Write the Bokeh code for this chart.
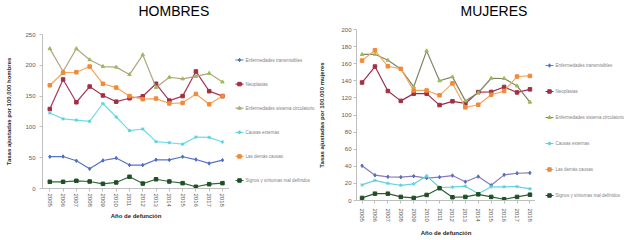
from bokeh.plotting import figure
from bokeh.models import Range1d, FixedTicker
from bokeh.core.properties import value
from bokeh.layouts import row, column
from bokeh.embed import file_html
from bokeh.resources import INLINE

years = list(range(2005, 2019))
series_labels = [
    "Enfermedades transmisibles",
    "Neoplasias",
    "Enfermedades sistema circulatorio",
    "Causas externas",
    "Las demás causas",
    "Signos y síntomas mal definidos",
]
chart_titles = ["HOMBRES", "MUJERES"]

# HOMBRES
transmisibles_h = [51.6, 51.9, 45, 32, 45.5, 49.4, 38, 38, 46.7, 46.4, 51.6, 47, 40.7, 46]
neoplasias_h = [129, 177, 140, 165.5, 151, 141, 146.5, 149.7, 170, 142.7, 150, 190, 158, 150]
circulatorio_h = [227, 190, 227, 209, 198, 197, 185, 217, 164, 180.6, 178, 182, 187, 173]
externas_h = [122.6, 113, 111, 109, 138, 116, 94, 96.6, 76, 74.3, 72, 83.5, 83, 75.5]
demas_h = [167.6, 188, 188.7, 198, 170, 163.8, 150, 145, 146, 138, 139, 153.5, 136.7, 150]
signos_h = [10.9, 10.9, 12.5, 11.4, 7.6, 9.8, 19, 8, 15, 11.4, 8.7, 2.8, 7, 8.7]

# MUJERES
transmisibles_m = [40.6, 29.6, 27.7, 27.3, 28.5, 26.2, 27.3, 29.2, 22, 28, 17.8, 30, 31.9, 32.3]
neoplasias_m = [138, 156.7, 128, 116.5, 125, 125, 111.6, 116, 113.5, 126.8, 127, 132.8, 126.4, 130]
circulatorio_m = [170.8, 171, 164, 153.7, 133, 175, 140, 144.6, 116.5, 126, 143, 142.7, 134, 115]
externas_m = [18.2, 23.5, 20, 17.8, 19.4, 28.8, 15.2, 15.6, 16.7, 8, 16, 16, 16.3, 13.7]
demas_m = [163.6, 175.7, 157, 154, 128.7, 128.7, 123, 137, 109, 112, 123.7, 128, 145, 145.7]
signos_m = [3, 8, 8, 4.2, 3, 6.5, 14.4, 3.8, 4.2, 7.2, 4.2, 1.5, 4.2, 6.8]

yticks_h = [0, 50, 100, 150, 200, 250]
yticks_m = [0, 20, 40, 60, 80, 100, 120, 140, 160, 180, 200]

line_colors_h = ["#5a72c4", "#a8385a", "#b3a57f", "#6fdde6", "#f7a458", "#2f6b35"]
line_colors_m = ["#8a7ab8", "#9a2f55", "#7f8462", "#66d3df", "#f2a860", "#2f5e34"]
marker_colors = ["#4f6fc0", "#a03040", "#9bbb59", "#5fd0e0", "#f08a3a", "#1f4f26"]
markers = ["diamond", "square", "triangle", "asterisk", "square", "square"]

FONT = "Liberation Sans"
TITLE_H = 24
H = 214


def bare_figure(width, height):
    f = figure(width=width, height=height, output_backend="svg", toolbar_location=None,
               x_range=Range1d(0, width), y_range=Range1d(height, 0),
               x_axis_location=None, y_axis_location=None,
               min_border_left=0, min_border_right=0, min_border_top=0,
               min_border_bottom=0, frame_align=False)
    f.outline_line_color = None
    f.xgrid.grid_line_color = None
    f.ygrid.grid_line_color = None
    return f


def make_chart(ylabel, data, yticks, ymax, line_colors, width, mb_left,
               mb_top, mb_bottom, xr, ytick_standoff,
               ylabel_standoff, xtick_standoff, xlabel_standoff):
    p = figure(width=width, height=H, output_backend="svg", toolbar_location=None,
               x_range=Range1d(*xr), y_range=Range1d(0, ymax),
               min_border_left=mb_left, min_border_right=0,
               min_border_top=mb_top, min_border_bottom=mb_bottom,
               frame_align=False)
    p.outline_line_color = None
    p.xgrid.grid_line_color = None
    p.ygrid.grid_line_color = None

    for ax in (p.xaxis[0], p.yaxis[0]):
        ax.axis_line_color = "#bfbfbf"
        ax.major_tick_line_color = "#bfbfbf"
        ax.minor_tick_line_color = None
        ax.major_tick_out = 3
        ax.major_tick_in = 0
        ax.major_label_text_font = FONT
        ax.major_label_text_font_size = "6px"
        ax.major_label_text_color = "#595959"
        ax.axis_label_text_font = FONT
        ax.axis_label_text_font_size = "6px"
        ax.axis_label_text_font_style = "bold"
        ax.axis_label_text_color = "#262626"

    p.xaxis.ticker = FixedTicker(ticks=years)
    p.xaxis.major_label_orientation = "vertical"
    p.xaxis.axis_label = "Año de defunción"
    p.xaxis.major_label_standoff = xtick_standoff
    p.xaxis.axis_label_standoff = xlabel_standoff
    p.yaxis.ticker = FixedTicker(ticks=yticks)
    p.yaxis.axis_label = ylabel
    p.yaxis.major_label_standoff = ytick_standoff
    p.yaxis.axis_label_standoff = ylabel_standoff

    for i, vals in enumerate(data):
        p.line(years, vals, line_color=line_colors[i], line_width=1.2)
        p.scatter(years, vals, marker=markers[i], size=3.5,
                  fill_color=marker_colors[i], line_color=marker_colors[i])
    return p


def make_legend(width, line_colors, x_glyph, y_first, y_step):
    lg = bare_figure(width, H)
    for i, lab in enumerate(series_labels):
        yc = y_first + i * y_step
        lg.segment(x0=[x_glyph], y0=[yc], x1=[x_glyph + 8], y1=[yc],
                   line_color=line_colors[i], line_width=1.2)
        lg.scatter(x=[x_glyph + 4], y=[yc], marker=markers[i], size=3.5,
                   fill_color=marker_colors[i], line_color=marker_colors[i])
        lg.text(x=[x_glyph + 10], y=[yc], text=[lab], text_font=value(FONT),
                text_font_size="4.5px", text_color="#7f7f7f",
                text_baseline="middle", text_align="left")
    return lg


# title strip
tfig = bare_figure(624, TITLE_H)
tfig.text(x=[138, 460], y=[10.5, 10.5], text=chart_titles, text_font=value(FONT),
          text_font_size="14px", text_color="#000000",
          text_baseline="middle", text_align="left")

p1 = make_chart("Tasas ajustadas por 100.000 hombres",
                [transmisibles_h, neoplasias_h, circulatorio_h, externas_h, demas_h, signos_h],
                yticks_h, 250, line_colors_h, 229, 42, 34 - TITLE_H, H - (188 - TITLE_H),
                (2004.45, 2018.53), 4, 10, 2, 3)
l1 = make_legend(87, line_colors_h, 6, 59.5 - TITLE_H, 24.1)

p2 = make_chart("Tasas ajustadas por 100.000 mujeres",
                [transmisibles_m, neoplasias_m, circulatorio_m, externas_m, demas_m, signos_m],
                yticks_m, 200, line_colors_m, 219, 36, 29 - TITLE_H, H - (204 - TITLE_H),
                (2004.57, 2018.43), 2, 13, 5, 5)
l2 = make_legend(89, line_colors_m, 10, 65 - TITLE_H, 26)

layout = column(tfig, row(p1, l1, p2, l2))
open("out.html", "w").write(file_html(layout, INLINE))
